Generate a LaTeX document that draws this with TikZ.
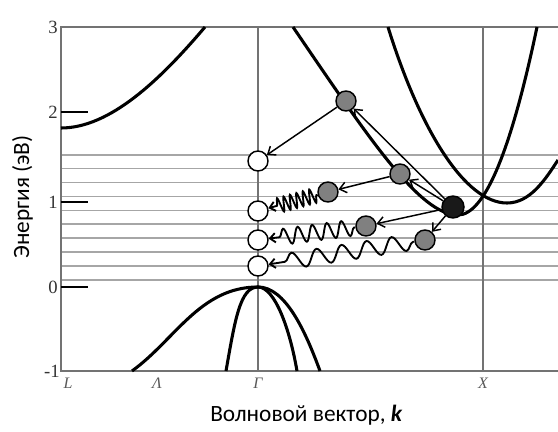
\documentclass[tikz,border=0pt]{standalone}
\usepackage{fontspec}
\setmainfont{Liberation Serif}
\newfontfamily\capfont{Carlito}
\usetikzlibrary{arrows.meta,decorations.pathmorphing}
\begin{document}
\begin{tikzpicture}[x=0.75pt,y=-0.75pt,
  frameline/.style={draw=black!55,line width=1.3pt},
  gridline/.style={draw=black!35,line width=1.2pt},
  band/.style={draw=black,line width=2.3pt},
  tickmark/.style={draw=black,line width=1.6pt},
  num/.style={font=\fontsize{14}{14}\selectfont, text=black!80, anchor=east, inner sep=0pt},
  kpt/.style={font=\fontsize{12}{12}\selectfont\itshape, text=black!65, inner sep=0pt},
  dot/.style={circle, draw=black, line width=1.1pt, minimum size=15pt, inner sep=0pt},
  hole/.style={dot, fill=white},
  elec/.style={dot, fill=black!50},
  hotdot/.style={dot, fill=black!90, minimum size=16.5pt},
  arr/.style={draw=black, line width=1.1pt, -{Straight Barb[length=5pt,width=8pt]}},
  wave/.style={draw=black, line width=1.4pt, -{Straight Barb[length=4pt,width=7pt]}, decorate},
  title/.style={font=\capfont\fontsize{17.5}{17.5}\selectfont, inner sep=0pt}
]
\useasboundingbox (0,0) rectangle (558,432);

% grid lines
\foreach \yy in {155,168.5,182.5,196.5,210.5,224,238,252,266,280}
  \draw[gridline] (61,\yy) -- (558,\yy);

% frame and symmetry lines
\draw[frameline] (558,27) -- (61,27) -- (61,371) -- (558,371);
\draw[frameline] (258,27) -- (258,371);
\draw[frameline] (483,27) -- (483,371);

% ticks
\foreach \yy in {112,202,287}
  \draw[tickmark] (61,\yy) -- (88,\yy);

% tick labels
\node[num] (n3) at (58,27) {3};
\node[num] (n2) at (58,112) {2};
\node[num] (n1) at (58,202) {1};
\node[num] (n0) at (58,287) {0};
\node[num] (nm1) at (60,371) {-1};

% k-point labels
\node[kpt] (kL) at (68,383) {L};
\node[kpt] (kLam) at (157,383) {Λ};
\node[kpt] (kG) at (258,383) {Γ};
\node[kpt] (kX) at (483,383) {X};

% axis titles
\node[title, anchor=base west] (xt) at (210,421) {Волновой вектор, \textbf{\textit{k}}};
\node[title, rotate=90, anchor=base] (yt) at (29,197) {Энергия (эВ)};

% bands
\draw[band] (61,128) .. controls (110,128) and (160,80) .. (205,27);
\draw[band] (132,371) .. controls (175,340) and (200,287) .. (258,287)
            .. controls (285,287) and (305,330) .. (320,371);
\draw[band] (226,371) .. controls (235,320) and (240,287) .. (258,287)
            .. controls (275,287) and (290,330) .. (297,371);
\draw[band] (293,27) .. controls (370,140) and (420,215) .. (458,215)
            .. controls (484.3,215) and (510.7,152.3) .. (537,27);
\draw[band] (388,27) .. controls (420,130) and (465,203) .. (507,203)
            .. controls (530,203) and (545,180) .. (558,160);

% carriers
\node[hole] (h1) at (258,161) {};
\node[hole] (h2) at (258,211) {};
\node[hole] (h3) at (258,240) {};
\node[hole] (h4) at (258,266) {};
\node[elec] (e1) at (346,101) {};
\node[elec] (e2) at (400,174) {};
\node[elec] (e3) at (328,192) {};
\node[elec] (e4) at (366,226) {};
\node[elec] (e5) at (425,240) {};
\node[hotdot] (hot) at (453,207) {};

% scattering arrows
\draw[arr] (e1) -- (h1);
\draw[arr] (hot) -- (e1);
\draw[arr] (e2) -- (e3);
\draw[arr] (hot) -- (e2);
\draw[arr] (hot) -- (e4);
\draw[arr] (hot) -- (e5);

% photon emission (wavy)
\draw[wave, decoration={snake, amplitude=5.5pt, segment length=5pt, pre length=1pt, post length=5pt}] (e3) -- (h2);
\draw[wave, decoration={snake, amplitude=6pt, segment length=11pt, pre length=1pt, post length=5pt}] (e4) -- (h3);
\draw[wave, decoration={snake, amplitude=6pt, segment length=19pt, pre length=1pt, post length=5pt}] (e5) -- (h4);
\end{tikzpicture}
\end{document}
